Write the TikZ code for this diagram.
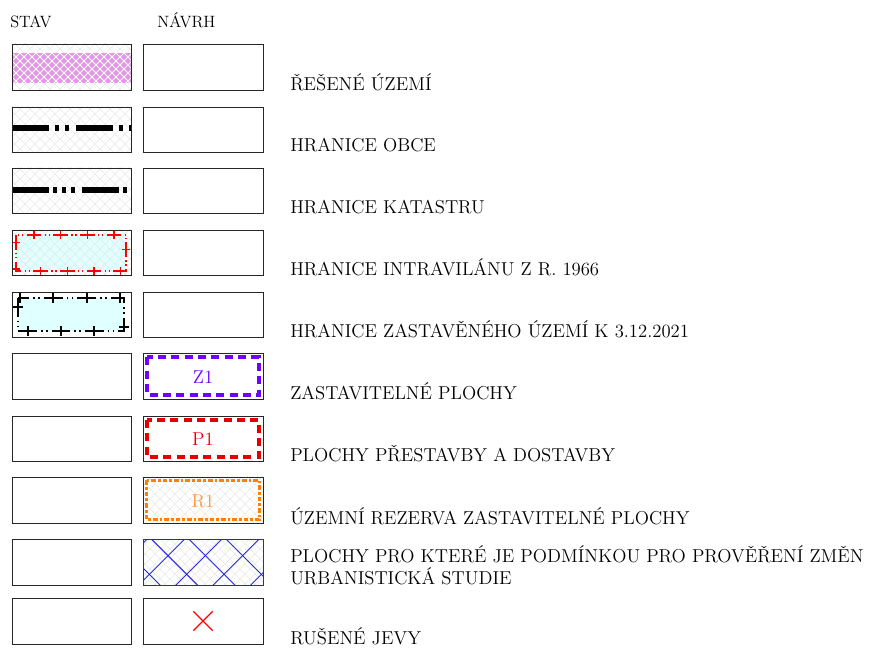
\documentclass[tikz,border=0pt]{standalone}
\usepackage{fontspec}
\usetikzlibrary{patterns.meta,decorations.markings,shapes.misc}

\definecolor{pinkband}{RGB}{228,150,228}
\definecolor{lightcyan}{RGB}{224,255,255}
\definecolor{zastpurple}{RGB}{112,0,255}
\definecolor{prestred}{RGB}{228,0,0}
\definecolor{rezorange}{RGB}{255,128,0}
\definecolor{rezlabel}{RGB}{255,150,60}
\definecolor{studblue}{RGB}{40,40,235}
\definecolor{studframe}{RGB}{50,50,110}

\tikzdeclarepattern{
  name=diamondhatch,
  parameters={\hatchsize,\hatchlinewidth},
  bounding box={(-.1pt,-.1pt) and (\hatchsize+.1pt,\hatchsize+.1pt)},
  tile size={(\hatchsize,\hatchsize)},
  defaults={
    size/.store in=\hatchsize,size=7.5pt,
    line width/.store in=\hatchlinewidth,line width=.4pt,
  },
  code={
    \draw[line width=\hatchlinewidth] (-.1pt,-.1pt) -- (\hatchsize+.1pt,\hatchsize+.1pt);
    \draw[line width=\hatchlinewidth] (-.1pt,\hatchsize+.1pt) -- (\hatchsize+.1pt,-.1pt);
  }
}

\tikzset{
  legendbox/.style={draw=black!85, line width=0.6pt},
  greyhatch/.style={pattern={diamondhatch[size=7.5pt,line width=0.5pt]}, pattern color=black!9},
  legendtext/.style={anchor=base west, inner sep=0pt, align=left, font=\fontsize{14}{16.5}\selectfont},
  headtext/.style={anchor=base west, inner sep=0pt, font=\fontsize{12.3}{14}\selectfont},
  codetext/.style={inner sep=0pt, font=\fontsize{14}{16}\selectfont},
  redborder/.style={draw=red, line width=1.1pt,
    dash pattern=on 11pt off 2.5pt on 1pt off 2pt on 1pt off 2.5pt,
    postaction={decorate, decoration={markings,
      mark=between positions 5.5pt and -1pt step 20pt with {\draw[red, solid, line width=1pt] (0,-3pt) -- (0,3pt);}}}},
  blackborder/.style={draw=black, line width=2pt,
    dash pattern=on 14pt off 3pt on 1.2pt off 2.5pt on 1.2pt off 3.1pt,
    postaction={decorate, decoration={markings,
      mark=between positions 7pt and -1pt step 25pt with {\draw[black, solid, line width=1.6pt] (0,-4pt) -- (0,4pt);}}}},
}

\begin{document}
\begin{tikzpicture}[x=0.75pt,y=-0.75pt]
			%%%%% START %%%%%
			\useasboundingbox (0,0) rectangle (869,649);
			
			\node[headtext] (stav) at (10,28) {STAV};
			\node[headtext] (navrh) at (157,28) {NÁVRH};
			
			% resene uzemi
			\fill[greyhatch] (12,44) rectangle (131,90);
			\fill[pinkband] (12,53) rectangle (131,83);
			\fill[pattern={diamondhatch[size=6pt,line width=0.7pt]}, pattern color=white] (12,53) rectangle (131,83);
			\draw[legendbox] (12,44) rectangle (131,90);
			\draw[legendbox] (143,44) rectangle (263,90);
			\node[legendtext] (resene) at (290,91) {ŘEŠENÉ ÚZEMÍ};
			
			% hranice obce
			\fill[greyhatch] (12,107) rectangle (131,152);
			\draw[line width=3.8pt, dash pattern=on 28pt off 4pt on 3.5pt off 4pt on 3.5pt off 5pt] (12,128) -- (131,128);
			\draw[legendbox] (12,107) rectangle (131,152);
			\draw[legendbox] (143,107) rectangle (263,152);
			\node[legendtext] (hranobce) at (290,152) {HRANICE OBCE};
			
			% hranice katastru
			\fill[greyhatch] (12,168) rectangle (131,213);
			\draw[line width=3.8pt, dash pattern=on 28pt off 3pt on 3pt off 3.5pt on 3pt off 3.5pt on 3pt off 5.5pt] (12,190) -- (131,190);
			\draw[legendbox] (12,168) rectangle (131,213);
			\draw[legendbox] (143,168) rectangle (263,213);
			\node[legendtext] (hrankat) at (290,214) {HRANICE KATASTRU};
			
			% hranice intravilanu
			\fill[lightcyan] (16,234) rectangle (126,272);
			\fill[greyhatch] (12,230) rectangle (131,275);
			\draw[redborder] (16,235) rectangle (126,271);
			\draw[legendbox] (12,230) rectangle (131,275);
			\draw[legendbox] (143,230) rectangle (263,275);
			\node[legendtext] (hranintra) at (290,276) {HRANICE INTRAVILÁNU Z R. 1966};
			
			% hranice zastaveneho uzemi
			\fill[lightcyan] (18,298) rectangle (124,331);
			\draw[blackborder] (18,298) rectangle (124,331);
			\draw[legendbox] (12,292) rectangle (131,337);
			\draw[legendbox] (143,292) rectangle (263,337);
			\node[legendtext] (hranzast) at (290,338) {HRANICE ZASTAVĚNÉHO ÚZEMÍ K 3.12.2021};
			
			% zastavitelne plochy
			\draw[legendbox] (12,353) rectangle (131,399);
			\draw[legendbox] (143,353) rectangle (263,399);
			\draw[zastpurple, line width=3pt, dash pattern=on 6pt off 4pt] (147,357.5) rectangle (259,395);
			\node[codetext, text=zastpurple] (z1) at (203,377) {Z1};
			\node[legendtext] (zastplochy) at (290,400) {ZASTAVITELNÉ PLOCHY};
			
			% plochy prestavby
			\draw[legendbox] (12,416) rectangle (131,461);
			\draw[legendbox] (143,416) rectangle (263,461);
			\draw[prestred, line width=3pt, dash pattern=on 6pt off 4pt] (147,420) rectangle (259,457);
			\node[codetext, text=prestred] (p1) at (203,439) {P1};
			\node[legendtext] (prestavby) at (290,462) {PLOCHY PŘESTAVBY A DOSTAVBY};
			
			% uzemni rezerva
			\draw[legendbox] (12,477) rectangle (131,523);
			\fill[greyhatch] (143,477) rectangle (263,523);
			\draw[rezorange, line width=2.6pt, dash pattern=on 3.5pt off 1.5pt on 2pt off 1.5pt] (146.5,480.5) rectangle (259.5,519.5);
			\draw[legendbox] (143,477) rectangle (263,523);
			\node[codetext, text=rezlabel] (r1) at (203,501) {R1};
			\node[legendtext] (rezerva) at (290,524) {ÚZEMNÍ REZERVA ZASTAVITELNÉ PLOCHY};
			
			% urbanisticka studie
			\draw[legendbox] (12,539) rectangle (131,585);
			\fill[greyhatch] (143,539) rectangle (263,585);
			\fill[pattern={diamondhatch[size=28pt,line width=0.7pt]}, pattern color=studblue] (143,539) rectangle (263,585);
			\draw[studframe, line width=0.7pt] (143,539) rectangle (263,585);
			\node[legendtext] (studie) at (290,584) {PLOCHY PRO KTERÉ JE PODMÍNKOU PRO PROVĚŘENÍ ZMĚN\\URBANISTICKÁ STUDIE};
			
			% rusene jevy
			\draw[legendbox] (12,598) rectangle (131,644);
			\draw[legendbox] (143,598) rectangle (263,644);
			\node[cross out, draw=red, line width=1pt, minimum size=13.5pt, inner sep=0pt] (zrus) at (203,621) {};
			\node[legendtext] (rusene) at (290,644) {RUŠENÉ JEVY};
			
			%%%%% END %%%%%
\end{tikzpicture}
\end{document}
